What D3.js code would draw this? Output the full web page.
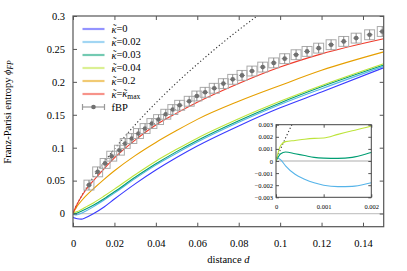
<!DOCTYPE html>
<head>
	<script src="https://d3js.org/d3.v7.min.js"></script>
	<style>
		body {
			margin: 0;
			background: #fff;
		}

		text {
			font-family: "Liberation Serif", serif;
		}

		.tick text {
			font-size: 10.5px;
			fill: #000;
		}

		.inset .tick text {
			font-size: 6.5px;
		}

		.label {
			font-size: 10.5px;
			fill: #000;
		}

		.curve {
			fill: none;
			stroke-width: 1.1;
		}
	</style>
</head>
<body>
	<script>
		// distance grid shared by the kappa curves
		var dGrid = [0, 0.0001, 0.0002, 0.0004, 0.0006, 0.0008, 0.001, 0.0013, 0.0016, 0.002, 0.004, 0.006,
			0.01, 0.015, 0.02, 0.03, 0.04, 0.05, 0.06, 0.08, 0.1, 0.12, 0.15];

		// Franz-Parisi entropy for each kappa
		var phiK0 = [-0.006, -0.0061, -0.0062, -0.0064, -0.0066, -0.0068, -0.007, -0.0073, -0.0076, -0.0079, -0.0085, -0.0065,
			0.0, 0.010, 0.022, 0.045, 0.066, 0.085, 0.1025, 0.133, 0.1605, 0.1845, 0.2215];
		var phiK002 = [0.0003, 0.0001, -0.0004, -0.0011, -0.0015, -0.0018, -0.002, -0.00212, -0.0021, -0.0018, 0.0005, 0.0035,
			0.0105, 0.0205, 0.031, 0.053, 0.0735, 0.0915, 0.1085, 0.1385, 0.1655, 0.1895, 0.2235];
		var phiK003 = [0, 0.0006, 0.00075, 0.0006, 0.00045, 0.0003, 0.00024, 0.00022, 0.0003, 0.0007, 0.0035, 0.0065,
			0.013, 0.0225, 0.033, 0.055, 0.0755, 0.094, 0.111, 0.141, 0.168, 0.1925, 0.2255];
		var phiK004 = [0, 0.0013, 0.0016, 0.0017, 0.0018, 0.00187, 0.0019, 0.0022, 0.0025, 0.0029, 0.006, 0.0095,
			0.0165, 0.0265, 0.037, 0.059, 0.0795, 0.0975, 0.1145, 0.144, 0.1705, 0.1945, 0.2275];
		var phiK02 = [0, 0.0008, 0.0015, 0.0028, 0.004, 0.005, 0.006, 0.0075, 0.009, 0.011, 0.019, 0.026,
			0.038, 0.052, 0.065, 0.088, 0.108, 0.126, 0.143, 0.1705, 0.1945, 0.2175, 0.2455];
		var phiKmax = [0, 0.001, 0.0019, 0.0035, 0.005, 0.0065, 0.0078, 0.0098, 0.0117, 0.0142, 0.0255, 0.035,
			0.0505, 0.068, 0.0845, 0.1115, 0.1345, 0.1525, 0.169, 0.1975, 0.2225, 0.2425, 0.2655];

		// dotted reference curve
		var dotD = [0, 0.0001, 0.0002, 0.0003, 0.0004, 0.0006, 0.001, 0.002, 0.004, 0.007, 0.01, 0.015, 0.02,
			0.03, 0.04, 0.05, 0.06, 0.07, 0.08, 0.09];
		var dotPhi = [0, 0.00102, 0.0019, 0.00273, 0.00353, 0.00505, 0.0079, 0.01443, 0.02608, 0.04171, 0.056, 0.0779, 0.098,
			0.1348, 0.168, 0.1985, 0.2268, 0.2536, 0.2788, 0.3025];

		// fBP points
		var fbpD = [0.0077, 0.0119, 0.0155, 0.0187, 0.0224, 0.0252, 0.0284, 0.0316, 0.0348, 0.0381, 0.0413, 0.0448,
			0.0482, 0.0515, 0.0561, 0.0598, 0.0638, 0.0682, 0.0726, 0.0771, 0.0816, 0.0864, 0.0916, 0.0969,
			0.1022, 0.1077, 0.1130, 0.1186, 0.1246, 0.1307, 0.1367, 0.1432, 0.1493];
		var fbpPhi = [0.0432, 0.0633, 0.0761, 0.0871, 0.0962, 0.1064, 0.1139, 0.1215, 0.1291, 0.1367, 0.1427, 0.1508,
			0.1579, 0.1644, 0.1705, 0.1785, 0.1841, 0.1902, 0.1973, 0.2038, 0.2098, 0.2164, 0.2224, 0.2288,
			0.2352, 0.2412, 0.2462, 0.2512, 0.2564, 0.2614, 0.2664, 0.2715, 0.2765];
		var fbpErrD = 0.0024;
		var fbpErrPhi = 0.0075;

		// ticks
		var xTicks = [0, 0.02, 0.04, 0.06, 0.08, 0.1, 0.12, 0.14];
		var yTicks = [0, 0.05, 0.1, 0.15, 0.2, 0.25, 0.3];
		var insetXTicks = [0, 0.001, 0.002];
		var insetYTicks = [-0.003, -0.002, -0.001, 0, 0.001, 0.002, 0.003];

		// legend
		var kappaLabels = ["0", "0.02", "0.03", "0.04", "0.2", "max"];
		var kappaSeries = [phiK0, phiK002, phiK003, phiK004, phiK02, phiKmax];
		var kappaColors = ["#3a3aff", "#56b4e9", "#009e73", "#bde43a", "#e69f00", "#f03a2a"];

		var width = 407;
		var height = 271;
		var margin = { top: 16, right: 23.3, bottom: 44.3, left: 73 };

		var svg = d3.select("body")
			.append("svg")
			.attr("width", width)
			.attr("height", height);

		// scales
		var xScale = d3.scaleLinear()
			.domain([0, 0.15])
			.range([margin.left, width - margin.right]);
		var yScale = d3.scaleLinear()
			.domain([-0.02, 0.3])
			.range([height - margin.bottom, margin.top]);

		var zip = function(xs, ys) { return xs.map(function(x, i) { return [x, ys[i]]; }); };

		svg.append("clipPath").attr("id", "clipMain")
			.append("rect")
			.attr("x", margin.left).attr("y", margin.top)
			.attr("width", width - margin.left - margin.right)
			.attr("height", height - margin.top - margin.bottom);

		var plot = svg.append("g").attr("clip-path", "url(#clipMain)");

		// zero line
		plot.append("line")
			.attr("x1", margin.left).attr("x2", width - margin.right)
			.attr("y1", yScale(0)).attr("y2", yScale(0))
			.attr("stroke", "#c8c8c8").attr("stroke-width", 1.3);

		var line = d3.line()
			.x(function(d) { return xScale(d[0]); })
			.y(function(d) { return yScale(d[1]); })
			.curve(d3.curveMonotoneX);

		// dotted curve
		plot.append("path")
			.attr("d", line(zip(dotD, dotPhi)))
			.attr("class", "curve")
			.attr("stroke", "#333")
			.attr("stroke-dasharray", "1.2,2.3");

		// kappa curves
		kappaSeries.forEach(function(s, i) {
			plot.append("path")
				.attr("d", line(zip(dGrid, s)))
				.attr("class", "curve")
				.attr("stroke", kappaColors[i]);
		});

		// fBP points
		var pts = plot.selectAll(".fbp")
			.data(zip(fbpD, fbpPhi))
			.enter()
			.append("g")
			.attr("class", "fbp");
		pts.append("rect")
			.attr("x", function(d) { return xScale(d[0] - fbpErrD); })
			.attr("y", function(d) { return yScale(d[1] + fbpErrPhi); })
			.attr("width", function(d) { return xScale(d[0] + fbpErrD) - xScale(d[0] - fbpErrD); })
			.attr("height", function(d) { return yScale(d[1] - fbpErrPhi) - yScale(d[1] + fbpErrPhi); })
			.attr("fill", "none").attr("stroke", "#aaa").attr("stroke-width", 1);
		pts.append("line")
			.attr("x1", function(d) { return xScale(d[0]); })
			.attr("x2", function(d) { return xScale(d[0]); })
			.attr("y1", function(d) { return yScale(d[1] - fbpErrPhi); })
			.attr("y2", function(d) { return yScale(d[1] + fbpErrPhi); })
			.attr("stroke", "#888").attr("stroke-width", 1);
		pts.append("line")
			.attr("x1", function(d) { return xScale(d[0] - fbpErrD * 0.6); })
			.attr("x2", function(d) { return xScale(d[0] + fbpErrD * 0.6); })
			.attr("y1", function(d) { return yScale(d[1]); })
			.attr("y2", function(d) { return yScale(d[1]); })
			.attr("stroke", "#888").attr("stroke-width", 1);
		pts.append("circle")
			.attr("cx", function(d) { return xScale(d[0]); })
			.attr("cy", function(d) { return yScale(d[1]); })
			.attr("r", 2.3)
			.attr("fill", "#707070");

		// axes, ticks inside and mirrored
		var fmt = function(v) { return d3.format("")(+v.toFixed(3)); };
		svg.append("g")
			.attr("transform", "translate(0," + (height - margin.bottom) + ")")
			.call(d3.axisBottom(xScale).tickValues(xTicks).tickSize(-4).tickPadding(13).tickFormat(fmt));
		svg.append("g")
			.attr("transform", "translate(0," + margin.top + ")")
			.call(d3.axisTop(xScale).tickValues(xTicks).tickSize(-4).tickFormat(""));
		svg.append("g")
			.attr("transform", "translate(" + margin.left + ",0)")
			.call(d3.axisLeft(yScale).tickValues(yTicks).tickSize(-4).tickPadding(8).tickFormat(fmt));
		svg.append("g")
			.attr("transform", "translate(" + (width - margin.right) + ",0)")
			.call(d3.axisRight(yScale).tickValues(yTicks).tickSize(-4).tickFormat(""));
		svg.selectAll(".domain").remove();
		svg.selectAll(".tick line").attr("stroke", "#555");

		// frame
		svg.append("rect")
			.attr("x", margin.left).attr("y", margin.top)
			.attr("width", width - margin.left - margin.right)
			.attr("height", height - margin.top - margin.bottom)
			.attr("fill", "none").attr("stroke", "#555").attr("stroke-width", 1.2);

		// inset
		var ix = d3.scaleLinear().domain([0, 0.002]).range([276, 371.3]);
		var iy = d3.scaleLinear().domain([-0.003, 0.003]).range([197.3, 124.7]);
		var inset = svg.append("g").attr("class", "inset");
		inset.append("rect")
			.attr("x", 276).attr("y", 124.7).attr("width", 95.3).attr("height", 72.6)
			.attr("fill", "#fff");
		inset.append("clipPath").attr("id", "clipInset")
			.append("rect")
			.attr("x", 276).attr("y", 124.7).attr("width", 95.3).attr("height", 72.6);
		var iplot = inset.append("g").attr("clip-path", "url(#clipInset)");
		iplot.append("line")
			.attr("x1", 276).attr("x2", 371.3)
			.attr("y1", iy(0)).attr("y2", iy(0))
			.attr("stroke", "#c8c8c8").attr("stroke-width", 1.3);
		var iline = d3.line()
			.x(function(d) { return ix(d[0]); })
			.y(function(d) { return iy(d[1]); })
			.curve(d3.curveMonotoneX);
		iplot.append("path")
			.attr("d", iline(zip(dotD, dotPhi)))
			.attr("class", "curve")
			.attr("stroke", "#333")
			.attr("stroke-dasharray", "1.2,2.3");
		[1, 2, 3].forEach(function(i) {
			iplot.append("path")
				.attr("d", iline(zip(dGrid, kappaSeries[i])))
				.attr("class", "curve")
				.attr("stroke", kappaColors[i]);
		});
		inset.append("g")
			.attr("transform", "translate(0,197.3)")
			.call(d3.axisBottom(ix).tickValues(insetXTicks).tickSize(-3).tickPadding(7).tickFormat(fmt));
		inset.append("g")
			.attr("transform", "translate(0,124.7)")
			.call(d3.axisTop(ix).tickValues(insetXTicks).tickSize(-3).tickFormat(""));
		inset.append("g")
			.attr("transform", "translate(276,0)")
			.call(d3.axisLeft(iy).tickValues(insetYTicks).tickSize(-3).tickPadding(3).tickFormat(fmt));
		inset.append("g")
			.attr("transform", "translate(371.3,0)")
			.call(d3.axisRight(iy).tickValues(insetYTicks).tickSize(-3).tickFormat(""));
		inset.selectAll(".domain").remove();
		inset.selectAll(".tick line").attr("stroke", "#555");
		inset.append("rect")
			.attr("x", 276).attr("y", 124.7).attr("width", 95.3).attr("height", 72.6)
			.attr("fill", "none").attr("stroke", "#444").attr("stroke-width", 1);

		// kappa with a tilde on top
		var kappaTilde = function(t) {
			t.append("tspan").attr("font-style", "italic").text("κ");
			t.append("tspan").attr("dx", -3.6).attr("dy", -0.5).text("˜");
			t.append("tspan").attr("dx", 0).attr("dy", 0.5).text("");
		};

		// legend
		var legend = svg.append("g");
		kappaLabels.forEach(function(k, i) {
			var ly = 29 + i * 13;
			legend.append("line")
				.attr("x1", 82.5).attr("x2", 104.5).attr("y1", ly).attr("y2", ly)
				.attr("stroke", kappaColors[i]).attr("stroke-width", 2.2).attr("stroke-opacity", 0.55);
			var t = legend.append("text").attr("class", "label").attr("x", 111.5).attr("y", ly + 3.5);
			kappaTilde(t);
			t.append("tspan").text("=");
			if (k === "max") {
				kappaTilde(t);
				t.append("tspan").attr("font-size", "7.5px").attr("dy", 2.5).text("max");
			} else {
				t.append("tspan").text(k);
			}
		});
		var fy = 29 + 6 * 13;
		legend.append("line").attr("x1", 82.5).attr("x2", 104.5).attr("y1", fy).attr("y2", fy)
			.attr("stroke", "#999").attr("stroke-width", 1.2);
		[82.5, 104.5].forEach(function(cx) {
			legend.append("line").attr("x1", cx).attr("x2", cx).attr("y1", fy - 3).attr("y2", fy + 3)
				.attr("stroke", "#999").attr("stroke-width", 1.2);
		});
		legend.append("circle").attr("cx", 93.5).attr("cy", fy).attr("r", 2.3).attr("fill", "#707070");
		legend.append("text").attr("class", "label").attr("x", 111.5).attr("y", fy + 3.5).text("fBP");

		// titles
		var xTitle = svg.append("text")
			.attr("class", "label")
			.attr("text-anchor", "middle")
			.attr("transform", "translate(" + [(margin.left + width - margin.right) / 2, 263] + ")");
		xTitle.append("tspan").text("distance ");
		xTitle.append("tspan").attr("font-style", "italic").text("d");

		var yTitle = svg.append("text")
			.attr("class", "label")
			.attr("text-anchor", "middle")
			.attr("transform", "translate(" + [11, 112] + ") rotate(-90)");
		yTitle.append("tspan").text("Franz-Parisi entropy ");
		yTitle.append("tspan").attr("font-style", "italic").text("ϕ");
		yTitle.append("tspan").attr("font-style", "italic").attr("font-size", "7.5px").attr("dy", 2).text("FP");
	</script>
</body>
</html>
